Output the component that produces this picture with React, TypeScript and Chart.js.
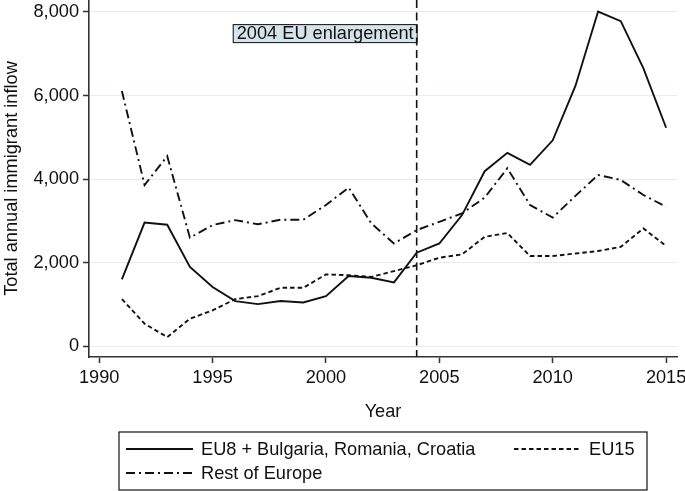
import React, { useEffect, useRef } from "react";
import { Chart, registerables } from "chart.js";
Chart.register(...registerables);

const years = [1991, 1992, 1993, 1994, 1995, 1996, 1997, 1998, 1999, 2000, 2001, 2002, 2003, 2004, 2005, 2006, 2007, 2008, 2009, 2010, 2011, 2012, 2013, 2014, 2015];
const eu8 = [1600, 2960, 2910, 1900, 1420, 1080, 1010, 1085, 1050, 1200, 1680, 1640, 1530, 2240, 2460, 3140, 4190, 4630, 4340, 4930, 6230, 8010, 7780, 6650, 5230];
const eu15 = [1130, 540, 220, 660, 860, 1130, 1200, 1400, 1400, 1720, 1700, 1660, 1800, 1940, 2120, 2200, 2620, 2710, 2160, 2160, 2220, 2280, 2380, 2820, 2400];
const restOfEurope = [6110, 3860, 4550, 2600, 2900, 3020, 2920, 3030, 3030, 3380, 3800, 2940, 2460, 2780, 2980, 3180, 3560, 4260, 3380, 3080, 3600, 4100, 3980, 3620, 3340];
const seriesLabels = ["EU8 + Bulgaria, Romania, Croatia", "EU15", "Rest of Europe"];
const xTicks = [1990, 1995, 2000, 2005, 2010, 2015];
const yTicks = [0, 2000, 4000, 6000, 8000];
const eventYear = 2004;
const eventLabel = "2004 EU enlargement";
const eventLabelTop = 7710;
const xTitle = "Year";
const yTitle = "Total annual immigrant inflow";

const FONT = "'Liberation Sans', Arial, Helvetica, sans-serif";
const FS = 18.2;
const INK = "#111111";

const eventPlugin = {
  id: "eventLine",
  afterDatasetsDraw(chart: any) {
    const ctx = chart.ctx;
    const xs = chart.scales.x;
    const ys = chart.scales.y;
    const { top, bottom } = chart.chartArea;
    const x = xs.getPixelForValue(eventYear);
    ctx.save();
    ctx.font = `${FS}px ${FONT}`;
    const tw = ctx.measureText(eventLabel).width;
    const bTop = ys.getPixelForValue(eventLabelTop);
    const bh = 18;
    const bw = tw + 7;
    ctx.fillStyle = "#d7e3ea";
    ctx.fillRect(x - bw, bTop, bw, bh);
    ctx.strokeStyle = INK;
    ctx.lineWidth = 1;
    ctx.strokeRect(x - bw + 0.5, bTop + 0.5, bw, bh);
    ctx.fillStyle = INK;
    ctx.textAlign = "right";
    ctx.textBaseline = "middle";
    ctx.fillText(eventLabel, x - 3, bTop + bh / 2 + 1);
    ctx.beginPath();
    ctx.setLineDash([8, 4.5]);
    ctx.lineWidth = 1.6;
    ctx.moveTo(x, top);
    ctx.lineTo(x, bottom);
    ctx.stroke();
    ctx.restore();
  },
};

const legendPlugin = {
  id: "boxLegend",
  afterDraw(chart: any) {
    const ctx = chart.ctx;
    const { left, right } = chart.chartArea;
    const cx = (left + right) / 2;
    const w = 528;
    const bx = cx - w / 2;
    const by = 432;
    const bh = 58;
    ctx.save();
    ctx.strokeStyle = INK;
    ctx.lineWidth = 1.2;
    ctx.strokeRect(bx, by, w, bh);
    const ds = chart.data.datasets;
    const slots = [
      { col: 0, row: 0 },
      { col: 1, row: 0 },
      { col: 0, row: 1 },
    ];
    ds.forEach((d: any, i: number) => {
      const s = slots[i];
      const sx = bx + (s.col === 0 ? 7 : 395);
      const sy = by + 17 + s.row * 24;
      ctx.beginPath();
      ctx.setLineDash(d.borderDash || []);
      ctx.lineWidth = d.borderWidth;
      ctx.strokeStyle = d.borderColor;
      ctx.moveTo(sx, sy);
      ctx.lineTo(sx + 67, sy);
      ctx.stroke();
      ctx.setLineDash([]);
      ctx.fillStyle = INK;
      ctx.font = `${FS}px ${FONT}`;
      ctx.textAlign = "left";
      ctx.textBaseline = "middle";
      ctx.fillText(d.label, sx + 75, sy + 1);
    });
    ctx.restore();
  },
};

export default function App() {
  const ref = useRef<HTMLCanvasElement>(null);
  useEffect(() => {
    if (!ref.current) return;
    const mk = (vals: number[]) => years.map((y, i) => ({ x: y, y: vals[i] }));
    const chart = new Chart(ref.current, {
      type: "line",
      data: {
        datasets: [
          { label: seriesLabels[0], data: mk(eu8), borderColor: INK, borderWidth: 1.9, borderDash: [], pointRadius: 0, fill: false, tension: 0 },
          { label: seriesLabels[1], data: mk(eu15), borderColor: INK, borderWidth: 1.9, borderDash: [4.5, 3], pointRadius: 0, fill: false, tension: 0 },
          { label: seriesLabels[2], data: mk(restOfEurope), borderColor: INK, borderWidth: 1.9, borderDash: [9, 4, 2, 4], pointRadius: 0, fill: false, tension: 0 },
        ],
      },
      options: {
        responsive: false,
        animation: false,
        devicePixelRatio: 1,
        layout: { padding: { left: 0, right: 8, top: 0, bottom: 64 } },
        plugins: { legend: { display: false }, tooltip: { enabled: false } },
        scales: {
          x: {
            type: "linear",
            min: 1989.55,
            max: 2015.48,
            afterBuildTicks: (s: any) => { s.ticks = xTicks.map((v) => ({ value: v })); },
            afterFit: (s: any) => { s.height = 70; s.paddingLeft = 0; s.paddingRight = 0; },
            grid: { drawOnChartArea: false, drawTicks: true, tickLength: 6, tickColor: "#333", tickWidth: 1.5 },
            border: { color: "#333", width: 1.6 },
            ticks: { color: INK, font: { family: FONT, size: FS }, padding: 4, maxRotation: 0, autoSkip: false, callback: (v: any) => String(v) },
            title: { display: true, text: xTitle, color: INK, font: { family: FONT, size: FS }, padding: { top: 0, bottom: 4 } },
          },
          y: {
            type: "linear",
            min: -256,
            max: 8287,
            afterBuildTicks: (s: any) => { s.ticks = yTicks.map((v) => ({ value: v })); },
            afterFit: (s: any) => { s.width = 89; s.paddingTop = 0; s.paddingBottom = 0; },
            grid: { color: "#e3ecf0", lineWidth: 1, drawTicks: true, tickLength: 6, tickColor: "#333", tickWidth: 1.5 },
            border: { color: "#333", width: 1.6 },
            ticks: { color: INK, font: { family: FONT, size: FS }, padding: 4, autoSkip: false, callback: (v: any) => Number(v).toLocaleString("en-US") },
            title: { display: true, text: yTitle, color: INK, font: { family: FONT, size: FS }, padding: { top: 1, bottom: 0 } },
          },
        },
      },
      plugins: [eventPlugin, legendPlugin],
    });
    return () => chart.destroy();
  }, []);
  return (
    <div style={{ position: "absolute", left: 0, top: 0, width: 685, height: 491, background: "#fff" }}>
      <canvas ref={ref} width={685} height={491} />
    </div>
  );
}
